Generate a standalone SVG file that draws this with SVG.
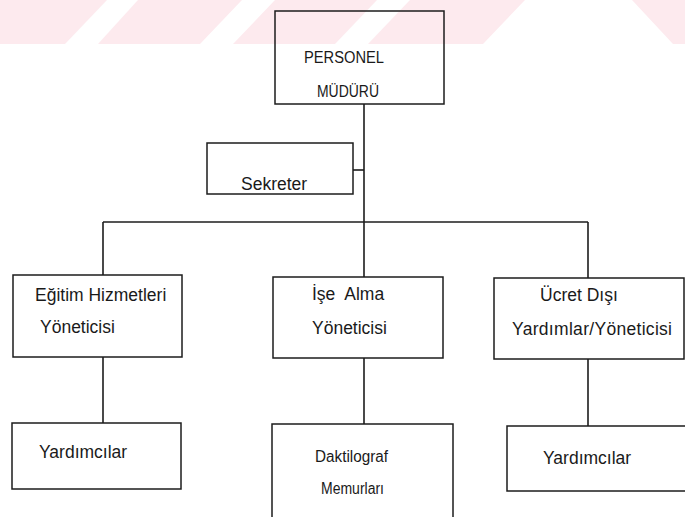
<svg xmlns="http://www.w3.org/2000/svg" width="685" height="517" viewBox="0 0 685 517">
  <defs>
    <style>
      .box { fill: none; stroke: #1c1c1c; stroke-width: 1.5; }
      .wire { fill: none; stroke: #1c1c1c; stroke-width: 1.6; }
      .lbl { font-family: "Liberation Sans", Arial, sans-serif; font-size: 17.5px; fill: #1a1a1a; }
      .mid { font-size: 16px; }
      .band { fill: #fdeaee; }
      .gap { fill: #ffffff; }
    </style>
  </defs>

  <rect width="685" height="517" fill="#ffffff"/>

  <!-- light striped band along the top edge -->
  <g id="band">
    <rect class="band" x="0" y="0" width="685" height="44"/>
    <polygon class="gap" points="107,0 138,0 98,44 65,44"/>
    <polygon class="gap" points="242,0 275,0 233,44 200,44"/>
    <polygon class="gap" points="377,0 410,0 368,44 335,44"/>
    <polygon class="gap" points="525,0 632,0 673,44 483,44"/>
  </g>

  <!-- connectors -->
  <g id="connectors">
    <line class="wire" x1="364" y1="104" x2="364" y2="277"/>
    <line class="wire" x1="353" y1="170" x2="364" y2="170"/>
    <line class="wire" x1="103" y1="222" x2="588" y2="222"/>
    <line class="wire" x1="103" y1="222" x2="103" y2="275"/>
    <line class="wire" x1="588" y1="222" x2="588" y2="278"/>
    <line class="wire" x1="103" y1="357" x2="103" y2="423"/>
    <line class="wire" x1="364" y1="358" x2="364" y2="424"/>
    <line class="wire" x1="588" y1="359" x2="588" y2="426"/>
  </g>

  <g id="personel-muduru">
    <rect class="box" x="275" y="11" width="169" height="93"/>
    <text class="lbl mid" x="304" y="63" textLength="80" lengthAdjust="spacingAndGlyphs">PERSONEL</text>
    <text class="lbl mid" x="317" y="97" textLength="62" lengthAdjust="spacingAndGlyphs">MÜDÜRÜ</text>
  </g>

  <g id="sekreter">
    <rect class="box" x="207" y="143" width="146" height="51"/>
    <text class="lbl" x="241" y="190">Sekreter</text>
  </g>

  <g id="egitim-hizmetleri">
    <rect class="box" x="13" y="275" width="169" height="82"/>
    <text class="lbl" x="35" y="301">Eğitim Hizmetleri</text>
    <text class="lbl" x="40" y="333">Yöneticisi</text>
  </g>

  <g id="ise-alma">
    <rect class="box" x="273" y="277" width="170" height="81"/>
    <text class="lbl" x="312" y="300" word-spacing="5">İşe Alma</text>
    <text class="lbl" x="312" y="334">Yöneticisi</text>
  </g>

  <g id="ucret-disi">
    <rect class="box" x="494" y="278" width="190" height="81"/>
    <text class="lbl" x="540" y="301">Ücret Dışı</text>
    <text class="lbl" x="512" y="335" letter-spacing="0.3">Yardımlar/Yöneticisi</text>
  </g>

  <g id="yardimcilar-1">
    <rect class="box" x="12" y="423" width="169" height="66"/>
    <text class="lbl" x="39" y="458">Yardımcılar</text>
  </g>

  <g id="daktilograf">
    <rect class="box" x="272" y="424" width="181" height="100"/>
    <text class="lbl mid" x="315" y="462" textLength="73" lengthAdjust="spacingAndGlyphs">Daktilograf</text>
    <text class="lbl mid" x="321" y="494" textLength="63" lengthAdjust="spacingAndGlyphs">Memurları</text>
  </g>

  <g id="yardimcilar-2">
    <rect class="box" x="507" y="426" width="190" height="65"/>
    <text class="lbl" x="543" y="464">Yardımcılar</text>
  </g>
</svg>
